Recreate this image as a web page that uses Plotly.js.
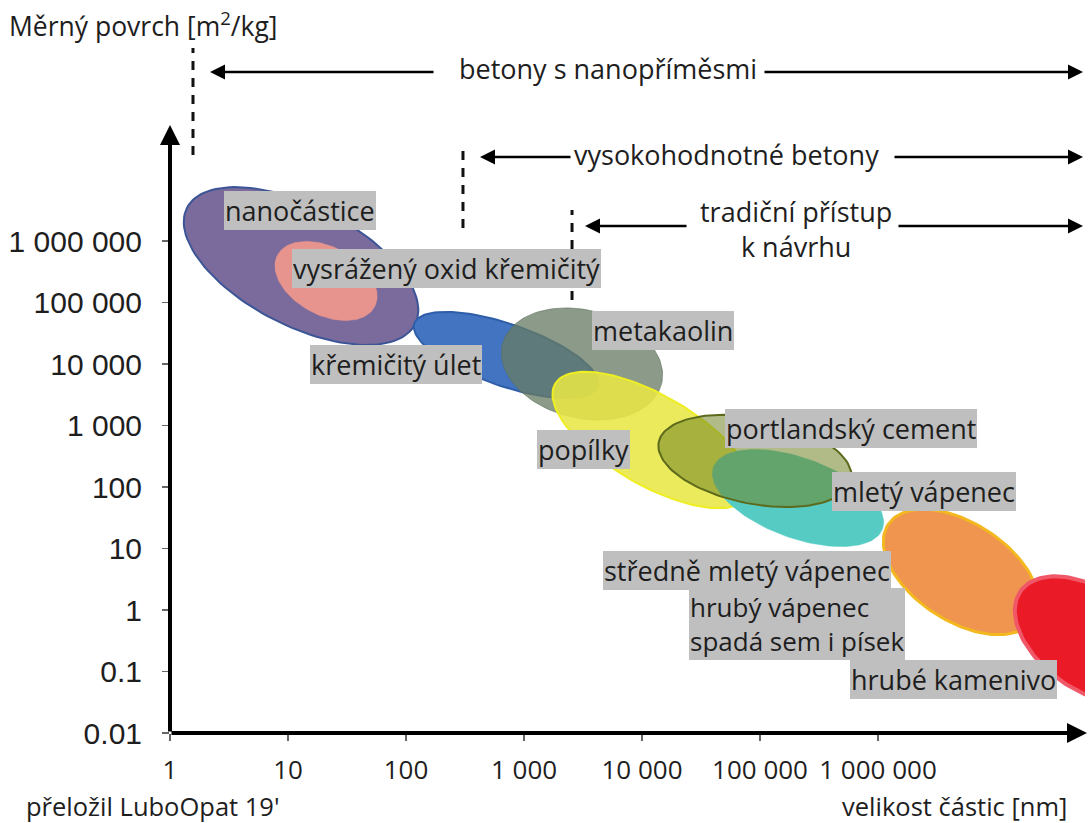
<!DOCTYPE html>
<html><head><meta charset="utf-8">
<script src="https://cdn.plot.ly/plotly-3.0.1.min.js"></script>
<style>html,body{margin:0;padding:0;background:#fff}</style>
</head><body><div id="chart" style="width:1091px;height:823px"></div>
<script>
// ---------- data ----------
const materials = ['nanočástice','vysrážený oxid křemičitý','křemičitý úlet','metakaolin','popílky',
  'mletý vápenec','portlandský cement','středně mletý / hrubý vápenec','hrubé kamenivo'];
const sizeCenterNm   = [12.9, 21, 704, 3100, 12160, 2.1e5, 9.07e4, 5.05e6, 6.27e7];
const surfaceCenter  = [3.92e5, 2.24e5, 1.4e4, 1.0e4, 581, 66.2, 265, 4.15, 0.325];
const majorSpreadDec = [1.085, 0.466, 0.822, 0.695, 0.949, 0.763, 0.831, 0.737, 0.720];
const minorSpreadDec = [0.508, 0.288, 0.263, 0.458, 0.381, 0.339, 0.364, 0.415, 0.424];
const tiltDeg        = [27, 28, 19, 14, 30, 20, 11, 33, 35];

const labelTexts = ['nanočástice','vysrážený oxid křemičitý','křemičitý úlet','metakaolin','popílky',
  'portlandský cement','mletý vápenec','středně mletý vápenec','hrubý vápenec<br>spadá sem i písek','hrubé kamenivo'];

const regimeNames   = ['betony s nanopříměsmi','vysokohodnotné betony','tradiční přístup<br>k návrhu'];
const regimeStartNm = [1.566, 304, 2553];

const xTickVals = [1,10,100,1000,1e4,1e5,1e6];
const xTickText = ['1','10','100','1 000','10 000','100 000','1 000 000'];
const yTickVals = [0.01,0.1,1,10,100,1000,1e4,1e5,1e6];
const yTickText = ['0.01','0.1','1','10','100','1 000','10 000','100 000','1 000 000'];

// ---------- styles / layout ----------
const fills = ['#7b6b9c','#e8948e','#4274c2','rgba(104,124,100,0.76)','rgba(232,230,70,0.88)',
  '#55cbc4','rgba(112,132,36,0.55)','#ef954f','#ea1b27'];
const lines = ['#3b5596','#e8948e','#2f5ea8','rgba(90,110,90,0.6)','#eeee22','#55cbc4','#5c6a1c','#f3b81f','#f05868'];
const lineW = [2, 0.5, 2, 1, 2, 0.5, 2, 3, 4];

// label anchor (log10 x, log10 y), alignment, font size
const labelPos = [
  [1.102, 6.488,'center',27],[2.347, 5.561,'center',27],[1.915, 3.984,'center',27],[4.178, 4.537,'center',27],
  [3.500, 2.602,'center',27],[5.771, 2.959,'center',27],[6.390, 1.919,'center',27],[4.890, 0.635,'center',27],
  [4.400,-0.225,'left',26],[6.636,-1.138,'center',27]];

const W = 1091, H = 823;
const margin = {l:170, r:6, t:40, b:90};
const plotW = W - margin.l - margin.r, plotH = H - margin.t - margin.b;
const pxPerDecX = 118, pxPerDecY = 61.5;
const xRange = [0, plotW/pxPerDecX];
const yRange = [-2, -2 + plotH/pxPerDecY];

function ellipse(i){
  const kx = plotW/(xRange[1]-xRange[0]), ky = plotH/(yRange[1]-yRange[0]);
  const th = tiltDeg[i]*Math.PI/180;
  const a = majorSpreadDec[i]*kx, b = minorSpreadDec[i]*kx;
  const lx0 = Math.log10(sizeCenterNm[i]), ly0 = Math.log10(surfaceCenter[i]);
  const xs=[], ys=[];
  for(let k=0;k<=120;k++){
    const t = k/120*2*Math.PI;
    const ux = a*Math.cos(t), uy = b*Math.sin(t);
    const px = ux*Math.cos(th) - uy*Math.sin(th);
    const py = ux*Math.sin(th) + uy*Math.cos(th);
    xs.push(Math.pow(10, lx0 + px/kx));
    ys.push(Math.pow(10, ly0 - py/ky));
  }
  return {x:xs, y:ys, type:'scatter', mode:'lines', fill:'toself', fillcolor:fills[i],
    line:{color:lines[i], width:lineW[i]}, hoverinfo:'text', text:materials[i], name:materials[i], showlegend:false};
}
const traces = materials.map((m,i)=>ellipse(i));

const font = 'Open Sans, sans-serif';
const annotations = [];
labelTexts.forEach((t,i)=>{
  const p = labelPos[i];
  annotations.push({xref:'x', yref:'y', x:p[0], y:p[1], text:t, showarrow:false,
    xanchor:p[2], yanchor:'middle', align:'left', bgcolor:'#bfbfbf', borderpad:1, borderwidth:0,
    font:{family:font, size:p[3], color:'#1e1e1e'}});
});

function arrow(x, y, ax, ay, w, s){
  return {xref:'paper', yref:'paper', x:x, y:y, ax:ax, ay:ay, axref:'pixel', ayref:'pixel',
    text:'', showarrow:true, arrowhead:2, arrowsize:s, arrowwidth:w, arrowcolor:'#000', standoff:0, startstandoff:0};
}
const px2p = px => (px - margin.l)/plotW;
const py2p = py => (margin.t + plotH - py)/plotH;
function textAt(px, py, t, size, xanchor){
  return {xref:'paper', yref:'paper', x:px2p(px), y:py2p(py), xanchor:xanchor||'center', yanchor:'middle',
    text:t, showarrow:false, align:'center', borderpad:0, font:{family:font, size:size, color:'#1e1e1e'}};
}

// axes
annotations.push(arrow(0, py2p(125), 0, 608, 4, 1.0));
annotations.push(arrow(px2p(1087), 0, -917, 0, 4, 1.0));

// regimes
const regimeTextPos = [[608,68],[726,154],[796,229]];
const regimeArrowY = [72,157,226];
const regimeLeft = [[210,435],[480,572],[585,688]];
const regimeRightTail = [763,893,897];
regimeNames.forEach((t,i)=>{
  annotations.push(textAt(regimeTextPos[i][0], regimeTextPos[i][1], t, 27));
  annotations.push(arrow(px2p(regimeLeft[i][0]), py2p(regimeArrowY[i]), regimeLeft[i][1]-regimeLeft[i][0], 0, 2.5, 1.2));
  annotations.push(arrow(px2p(1083), py2p(regimeArrowY[i]), regimeRightTail[i]-1083, 0, 2.5, 1.2));
});

annotations.push(textAt(8, 25, 'Měrný povrch [m<sup>2</sup>/kg]', 26.5, 'left'));
annotations.push(textAt(1068, 806, 'velikost částic [nm]', 25.5, 'right'));
annotations.push(textAt(25, 806, "přeložil LuboOpat 19'", 25.5, 'left'));

const dashTop = [[155,48],[228,150],[300,210]];
const shapes = regimeStartNm.map((v,i)=>({type:'line', xref:'x', yref:'paper', x0:v, x1:v,
  y0:py2p(dashTop[i][0]), y1:py2p(dashTop[i][1]), line:{color:'#111', width:3, dash:'9px,8px'}}));

const layout = {
  width:W, height:H, margin:margin, paper_bgcolor:'#fff', plot_bgcolor:'rgba(0,0,0,0)',
  showlegend:false,
  xaxis:{type:'log', range:xRange, tickvals:xTickVals, ticktext:xTickText, ticks:'outside', ticklen:7,
    tickcolor:'#666', tickwidth:1.5, showgrid:false, zeroline:false, showline:false, fixedrange:true,
    ticklabelstandoff:7, tickfont:{family:font, size:26, color:'#1e1e1e'}},
  yaxis:{type:'log', range:yRange, tickvals:yTickVals, ticktext:yTickText, ticks:'outside', ticklen:7,
    tickcolor:'#666', tickwidth:1.5, showgrid:false, zeroline:false, showline:false, fixedrange:true,
    ticklabelstandoff:14, tickfont:{family:'Liberation Sans, Arial, sans-serif', size:30, color:'#1e1e1e'}},
  annotations:annotations, shapes:shapes
};
Plotly.newPlot('chart', traces, layout, {staticPlot:true, displayModeBar:false});
</script></body></html>
